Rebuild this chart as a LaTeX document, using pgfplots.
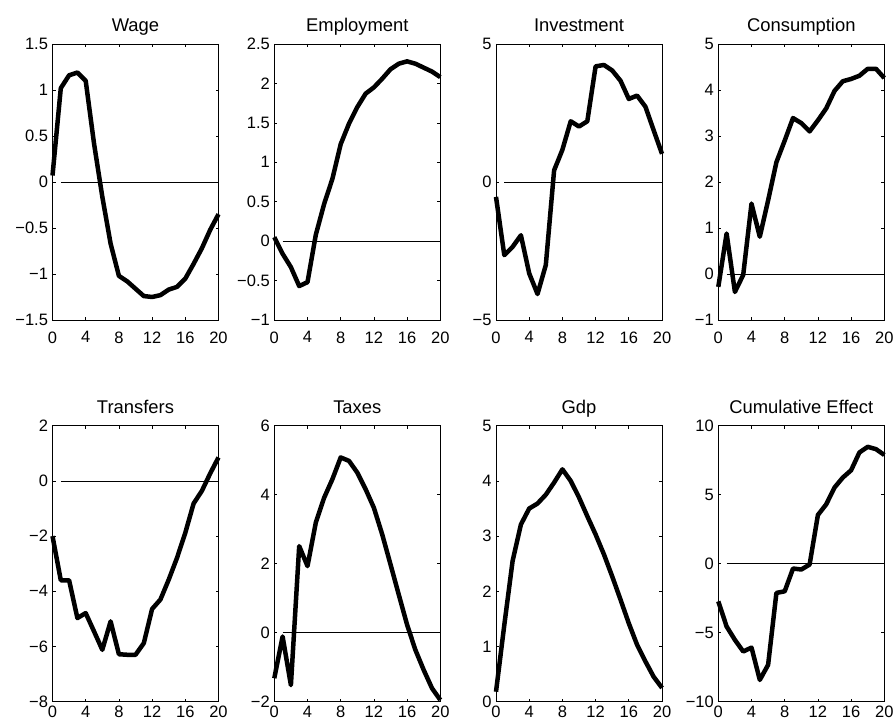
\documentclass[border=0pt]{standalone}
\usepackage{fontspec}
\setmainfont{Liberation Sans}
\usepackage{pgfplots}
\pgfplotsset{compat=1.18}
\pgfplotsset{
  irf/.style={
    scale only axis, width=166pt, height=276pt,
    anchor=south west, clip=false,
    xmin=0, xmax=20, xtick={0,4,...,20},
    tick align=inside, major tick length=3pt,
    axis line style={line width=0.7pt},
    every tick/.style={black, line width=0.7pt},
    tick label style={font=\fontsize{16.5}{16.5}\selectfont},
    yticklabel style={xshift=-1pt},
    /pgf/number format/assume math mode=true,
    title style={font=\fontsize{18.4}{19}\selectfont, at={(0.5,1)}, anchor=base, yshift=6pt},
  },
  toprow/.style={irf, xticklabel style={yshift=-8pt}},
  botrow/.style={irf, xticklabel style={yshift=-1pt}},
  irfline/.style={black, line width=4.5pt, line join=round},
  zeroline/.style={black, line width=0.6pt},
}
\begin{document}
\begin{tikzpicture}
\useasboundingbox (0pt,0pt) rectangle (896pt,725pt);

% row 1
\begin{axis}[toprow, at={(52.5pt,405pt)}, title={Wage},
  ymin=-1.5, ymax=1.5, ytick={-1.5,-1,...,1.5},
  yticklabels={−1.5,−1,−0.5,0,0.5,1,1.5}]
\addplot[zeroline] coordinates {(1,0) (20,0)};
\addplot[irfline] coordinates {
(0,0.07) (1,1.02) (2,1.16) (3,1.19) (4,1.10) (5,0.42) (6,-0.16) (7,-0.67)
(8,-1.02) (9,-1.08) (10,-1.16) (11,-1.24) (12,-1.25) (13,-1.23) (14,-1.17)
(15,-1.14) (16,-1.05) (17,-0.89) (18,-0.72) (19,-0.52) (20,-0.35)};
\end{axis}

\begin{axis}[toprow, at={(274.3pt,405pt)}, title={Employment},
  ymin=-1, ymax=2.5, ytick={-1,-0.5,...,2.5},
  yticklabels={−1,−0.5,0,0.5,1,1.5,2,2.5}]
\addplot[zeroline] coordinates {(1,0) (20,0)};
\addplot[irfline] coordinates {
(0,0.05) (1,-0.16) (2,-0.33) (3,-0.57) (4,-0.52) (5,0.08) (6,0.47) (7,0.79)
(8,1.23) (9,1.49) (10,1.70) (11,1.87) (12,1.95) (13,2.06) (14,2.18)
(15,2.25) (16,2.28) (17,2.25) (18,2.20) (19,2.15) (20,2.08)};
\end{axis}

\begin{axis}[toprow, at={(496pt,405pt)}, title={Investment},
  ymin=-5, ymax=5, ytick={-5,0,5},
  yticklabels={−5,0,5}]
\addplot[zeroline] coordinates {(1,0) (20,0)};
\addplot[irfline] coordinates {
(0,-0.54) (1,-2.65) (2,-2.35) (3,-1.93) (4,-3.31) (5,-4.06) (6,-3.01) (7,0.42)
(8,1.17) (9,2.20) (10,2.01) (11,2.20) (12,4.19) (13,4.24) (14,4.04)
(15,3.67) (16,3.01) (17,3.13) (18,2.73) (19,1.87) (20,1.02)};
\end{axis}

\begin{axis}[toprow, at={(718.3pt,405pt)}, title={Consumption},
  ymin=-1, ymax=5, ytick={-1,0,...,5},
  yticklabels={−1,0,1,2,3,4,5}]
\addplot[zeroline] coordinates {(1,0) (20,0)};
\addplot[irfline] coordinates {
(0,-0.28) (1,0.88) (2,-0.39) (3,-0.02) (4,1.53) (5,0.81) (6,1.60) (7,2.43)
(8,2.90) (9,3.39) (10,3.28) (11,3.10) (12,3.34) (13,3.60) (14,3.98)
(15,4.19) (16,4.24) (17,4.31) (18,4.46) (19,4.46) (20,4.26)};
\end{axis}

% row 2
\begin{axis}[botrow, at={(52.5pt,23.3pt)}, title={Transfers},
  ymin=-8, ymax=2, ytick={-8,-6,...,2},
  yticklabels={−8,−6,−4,−2,0,2}]
\addplot[zeroline] coordinates {(1,0) (20,0)};
\addplot[irfline] coordinates {
(0,-2.00) (1,-3.60) (2,-3.60) (3,-4.97) (4,-4.79) (5,-5.45) (6,-6.12) (7,-5.09)
(8,-6.28) (9,-6.30) (10,-6.30) (11,-5.88) (12,-4.64) (13,-4.30) (14,-3.58)
(15,-2.79) (16,-1.88) (17,-0.82) (18,-0.36) (19,0.27) (20,0.85)};
\end{axis}

\begin{axis}[botrow, at={(274.3pt,23.3pt)}, title={Taxes},
  ymin=-2, ymax=6, ytick={-2,0,...,6},
  yticklabels={−2,0,2,4,6}]
\addplot[zeroline] coordinates {(1,0) (20,0)};
\addplot[irfline] coordinates {
(0,-1.32) (1,-0.11) (2,-1.52) (3,2.51) (4,1.93) (5,3.19) (6,3.91) (7,4.45)
(8,5.08) (9,4.98) (10,4.64) (11,4.16) (12,3.62) (13,2.85) (14,1.98)
(15,1.10) (16,0.23) (17,-0.50) (18,-1.08) (19,-1.61) (20,-1.95)};
\end{axis}

\begin{axis}[botrow, at={(496pt,23.3pt)}, title={Gdp},
  ymin=0, ymax=5, ytick={0,1,...,5}]
\addplot[irfline] coordinates {
(0,0.18) (1,1.39) (2,2.55) (3,3.21) (4,3.50) (5,3.59) (6,3.75) (7,3.97)
(8,4.21) (9,4.00) (10,3.70) (11,3.36) (12,3.03) (13,2.67) (14,2.27)
(15,1.85) (16,1.42) (17,1.03) (18,0.73) (19,0.45) (20,0.25)};
\end{axis}

\begin{axis}[botrow, at={(718.3pt,23.3pt)}, title={Cumulative Effect},
  ymin=-10, ymax=10, ytick={-10,-5,...,10},
  yticklabels={−10,−5,0,5,10}]
\addplot[zeroline] coordinates {(1,0) (20,0)};
\addplot[irfline] coordinates {
(0,-2.73) (1,-4.55) (2,-5.52) (3,-6.36) (4,-6.08) (5,-8.42) (6,-7.33) (7,-2.12)
(8,-2.00) (9,-0.35) (10,-0.42) (11,-0.06) (12,3.53) (13,4.30) (14,5.52)
(15,6.24) (16,6.77) (17,8.06) (18,8.47) (19,8.30) (20,7.88)};
\end{axis}
\end{tikzpicture}
\end{document}
